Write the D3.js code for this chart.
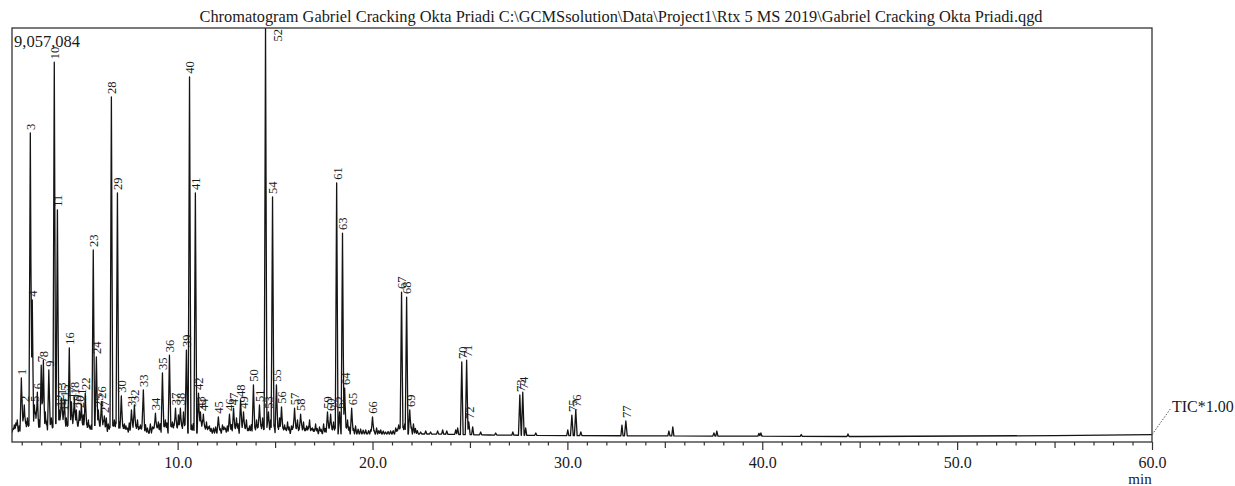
<!DOCTYPE html>
<html>
<head>
<meta charset="utf-8">
<script src="https://cdn.jsdelivr.net/npm/d3@7"></script>
<style>
  html, body { margin: 0; padding: 0; background: #fff; }
  svg { display: block; }
  text { font-family: "Liberation Serif", "Times New Roman", serif; fill: #1a1a1a; }
</style>
</head>
<body>
<svg id="chart" width="1235" height="486"></svg>
<script>
// ---- DATA ----
const titleText = "Chromatogram Gabriel Cracking Okta Priadi C:\\GCMSsolution\\Data\\Project1\\Rtx 5 MS 2019\\Gabriel Cracking Okta Priadi.qgd";
const maxIntensity = 9057084;
const timeDomain = [1.5, 60.0];
const tickLabels = [10, 20, 30, 40, 50, 60];

// labelled peaks: retention time (min)
const peakLabels = [1,2,3,4,5,6,7,8,9,10,11,12,13,14,15,16,17,18,19,20,21,22,23,24,25,26,27,28,29,30,31,32,33,34,35,36,37,38,39,40,41,42,43,44,45,46,47,48,49,50,51,52,53,54,55,56,57,58,59,60,61,62,63,64,65,66,67,68,69,70,71,72,73,74,75,76,77];
const peakTimes = [1.98,2.13,2.44,2.54,2.65,2.80,3.00,3.11,3.39,3.67,3.83,3.93,4.03,4.10,4.19,4.44,4.55,4.70,4.80,4.96,5.06,5.26,5.67,5.83,5.93,6.09,6.24,6.60,6.91,7.11,7.63,7.78,8.24,8.86,9.22,9.58,9.89,10.14,10.45,10.61,10.91,11.07,11.17,11.32,12.09,12.66,12.87,13.23,13.38,13.89,14.20,14.51,14.66,14.87,15.07,15.33,16.00,16.31,17.69,17.85,18.16,18.31,18.46,18.57,18.93,20.00,21.49,21.75,21.91,24.58,24.83,24.94,27.56,27.71,30.23,30.43,33.00];
// peak heights (counts)
const peakHeights = [1400000,810000,6760000,3110000,810000,1090000,1680000,1790000,1580000,8310000,5080000,700000,960000,610000,920000,2060000,880000,980000,700000,680000,830000,1070000,4200000,1860000,700000,880000,570000,7550000,5450000,1010000,700000,810000,1140000,630000,1510000,1900000,740000,740000,2010000,7990000,5450000,1070000,660000,610000,550000,610000,740000,920000,660000,1250000,810000,9057084,660000,5360000,1250000,770000,740000,610000,660000,610000,5670000,660000,4570000,1180000,740000,550000,3280000,3170000,700000,1750000,1790000,440000,1030000,1090000,590000,700000,460000];

// unlabelled minor peaks: retention time (min)
const minorTimes = [1.55,1.62,1.70,1.77,1.87,2.05,2.21,2.29,2.36,2.72,2.90,3.21,3.28,3.46,3.52,3.59,3.75,4.29,4.36,4.63,4.88,5.16,5.34,5.42,5.49,5.57,5.75,6.01,6.17,6.34,6.44,6.52,6.68,6.75,6.83,7.01,7.19,7.27,7.35,7.42,7.52,7.70,7.86,7.94,8.02,8.09,8.17,8.35,8.45,8.60,8.71,8.78,8.94,9.01,9.10,9.30,9.37,9.45,9.66,9.73,9.81,9.97,10.04,10.22,10.30,10.37,10.71,10.80,11.25,11.40,11.48,11.56,11.63,11.72,11.84,11.95,12.18,12.30,12.38,12.45,12.55,12.76,12.95,13.02,13.10,13.30,13.46,13.53,13.61,13.69,13.78,13.97,14.05,14.12,14.28,14.36,14.43,14.59,14.77,14.95,15.15,15.23,15.41,15.49,15.56,15.64,15.72,15.84,15.92,16.08,16.15,16.23,16.38,16.46,16.54,16.62,16.70,16.77,16.85,16.92,17.00,17.08,17.16,17.28,17.36,17.49,17.58,17.77,17.93,18.00,18.08,18.65,18.72,18.80,19.02,19.13,19.26,19.39,19.52,19.65,19.80,19.91,20.08,20.21,20.32,20.42,20.55,20.67,20.80,20.93,21.06,21.19,21.27,21.34,21.41,21.57,21.65,21.99,22.10,22.20,22.30,22.47,22.73,22.98,23.34,23.60,23.81,24.27,24.37,25.14,25.55,26.32,27.20,27.86,28.38,30.02,30.69,32.80,35.21,35.41,37.52,37.67,39.83,39.93,42.00,44.40];
// minor peak heights (counts)
const minorHeights = [300000,372000,420000,481000,350000,520000,450000,525000,400000,591000,481000,656000,450000,400000,525000,350000,450000,525000,400000,450000,380000,591000,420000,481000,350000,372000,400000,380000,420000,525000,394000,350000,400000,481000,450000,438000,380000,394000,350000,306000,420000,350000,380000,481000,330000,372000,350000,380000,306000,394000,328000,330000,350000,438000,400000,380000,481000,420000,380000,438000,400000,350000,591000,380000,656000,420000,372000,400000,380000,350000,438000,330000,350000,300000,306000,330000,300000,372000,330000,306000,350000,380000,330000,525000,400000,350000,330000,481000,300000,350000,380000,330000,481000,350000,380000,525000,300000,350000,481000,380000,350000,525000,330000,372000,300000,438000,330000,350000,350000,330000,481000,300000,330000,438000,300000,350000,330000,481000,300000,306000,280000,394000,300000,328000,280000,394000,300000,330000,300000,438000,330000,350000,481000,330000,300000,350000,280000,284000,260000,263000,250000,270000,260000,306000,250000,263000,240000,219000,230000,241000,250000,306000,280000,372000,330000,350000,394000,330000,394000,300000,250000,219000,241000,219000,241000,263000,241000,263000,306000,330000,219000,197000,219000,306000,197000,263000,219000,370000,240000,330000,200000,240000,190000,200000,165000,175000];

// baseline level (counts) at knots
const baseTimes =  [1.5, 12, 20, 23, 26, 30, 45, 55, 60];
const baseLevels = [197000, 197000, 175000, 175000, 153000, 140000, 120000, 140000, 160000];

// ---- LAYOUT ----
const svg = d3.select("#chart");
const L = 12, R = 1152, T = 28, B = 442;

const x = d3.scaleLinear().domain(timeDomain).range([L, R]);
const y = d3.scaleLinear().domain([0, maxIntensity]).range([B, T]);
const baseline = d3.scaleLinear().domain(baseTimes).range(baseLevels).clamp(true);

// build peak objects
const peaks = peakTimes.map((t, i) => ({ t, h: peakHeights[i], label: peakLabels[i], w: 0.07 }))
  .concat(minorTimes.map((t, i) => ({ t, h: minorHeights[i], label: null, w: 0.055 })));
peaks.forEach(p => { p.a = Math.max(0, p.h - baseline(p.t)); });

// breakpoints of the piecewise-linear trace
let ts = baseTimes.slice();
peaks.forEach(p => { ts.push(p.t - p.w, p.t, p.t + p.w); });
ts = Array.from(new Set(ts.map(v => +v.toFixed(4)))).filter(v => v >= timeDomain[0] && v <= timeDomain[1]).sort((a, b) => a - b);

const trace = ts.map(t => {
  let v = baseline(t);
  peaks.forEach(p => {
    const d = Math.abs(t - p.t);
    if (d < p.w) v += p.a * (1 - d / p.w);
  });
  return [t, v];
});

// title
svg.append("text")
  .attr("x", 621).attr("y", 22)
  .attr("text-anchor", "middle")
  .attr("font-size", 16)
  .attr("textLength", 843).attr("lengthAdjust", "spacingAndGlyphs")
  .text(titleText);

// clip
svg.append("clipPath").attr("id", "plotclip")
  .append("rect").attr("x", L).attr("y", T).attr("width", R - L).attr("height", B - T);

// trace
svg.append("path")
  .datum(trace)
  .attr("clip-path", "url(#plotclip)")
  .attr("fill", "none")
  .attr("stroke", "#141414")
  .attr("stroke-width", 1.3)
  .attr("stroke-linejoin", "round")
  .attr("d", d3.line().x(d => x(d[0])).y(d => y(d[1])));

// peak labels (a peak reaching the top gets its label beside it)
const labelled = peaks.filter(p => p.label !== null);
const atTop = p => y(p.h) - 3 < T + 20;
svg.append("g").selectAll("text")
  .data(labelled)
  .join("text")
  .attr("transform", p => atTop(p)
      ? `translate(${x(p.t) + 12},${T + 1}) rotate(-90)`
      : `translate(${x(p.t) + 0.5},${y(p.h) - 3}) rotate(-90)`)
  .attr("text-anchor", p => (atTop(p) ? "end" : "start"))
  .attr("dy", "0.35em")
  .attr("font-size", 12.5)
  .text(p => p.label);

// frame
svg.append("rect")
  .attr("x", L).attr("y", T).attr("width", R - L).attr("height", B - T)
  .attr("fill", "none").attr("stroke", "#333").attr("stroke-width", 1.3);

// x axis
const axis = d3.axisBottom(x)
  .tickValues(d3.range(2, 61))
  .tickSize(3)
  .tickFormat(v => (tickLabels.includes(v) ? d3.format(".1f")(v) : ""));
const gx = svg.append("g").attr("transform", `translate(0,${B})`).call(axis);
gx.select(".domain").remove();
gx.selectAll(".tick line")
  .attr("stroke", "#333")
  .attr("stroke-width", 1.2)
  .attr("y2", v => (v % 10 === 0 ? 8 : v % 5 === 0 ? 6 : 3.5));
gx.selectAll(".tick text")
  .attr("y", 26).attr("dy", null)
  .attr("font-size", 16)
  .attr("font-family", "Liberation Serif, serif")
  .attr("fill", "#1a1a1a");

// axis unit
svg.append("text").attr("x", 1140).attr("y", 484).attr("text-anchor", "middle")
  .attr("font-size", 15).text("min");

// max intensity label
svg.append("text").attr("x", 14).attr("y", 47).attr("font-size", 16.5).text(d3.format(",")(maxIntensity));

// TIC label with dotted leader
const endPt = trace[trace.length - 1];
svg.append("line")
  .attr("x1", x(endPt[0])).attr("y1", y(endPt[1]))
  .attr("x2", 1171).attr("y2", 408)
  .attr("stroke", "#555").attr("stroke-width", 1).attr("stroke-dasharray", "1.5,1.5");
svg.append("text").attr("x", 1172).attr("y", 412).attr("font-size", 16).text("TIC*1.00");
</script>
</body>
</html>
